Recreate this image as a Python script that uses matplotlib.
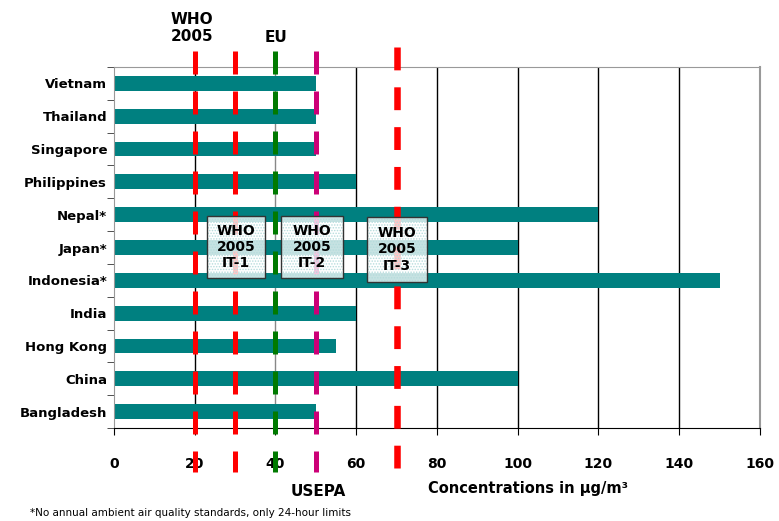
import matplotlib.pyplot as plt
import matplotlib.transforms as mtransforms
from matplotlib.patches import Rectangle

countries = ["Vietnam", "Thailand", "Singapore", "Philippines", "Nepal*", "Japan*",
             "Indonesia*", "India", "Hong Kong", "China", "Bangladesh"]
pm10 = [50, 50, 50, 60, 120, 100, 150, 60, 55, 100, 50]

# guideline / standard values
std_values = [20, 30, 40, 50, 70]
std_colors = ["#ff0000", "#ff0000", "#007a00", "#cc0077", "#ff0000"]

xticks = [0, 20, 40, 60, 80, 100, 120, 140, 160]

plt.rcParams["hatch.linewidth"] = 0.7

fig = plt.figure(figsize=(7.79, 5.21), dpi=100)
ax = fig.add_axes([0.1463, 0.1785, 0.8293, 0.6929])

y = list(range(len(countries)))[::-1]
ax.barh(y, pm10, height=0.45, color="#008080", zorder=2)

ax.set_xlim(0, 160)
ax.set_ylim(-0.5, len(countries) - 0.5)
ax.set_xticks(xticks)
ax.set_xticklabels([str(v) for v in xticks], fontsize=10, fontweight="bold")
ax.set_yticks(y)
ax.set_yticklabels(countries, fontsize=9.5, fontweight="bold")
ax.set_yticks([v + 0.5 for v in range(-1, len(countries))], minor=True)
ax.tick_params(axis="y", which="major", length=0, pad=5)
ax.tick_params(axis="y", which="minor", length=5, color="#333333")
ax.tick_params(axis="x", length=5, pad=16)

for gx in xticks[1:-1]:
    ax.axvline(gx, color="#888888" if gx == 40 else "black", linewidth=1, zorder=1)
for side in ["top", "right", "left"]:
    ax.spines[side].set_color("#999999")
ax.spines["right"].set_linewidth(1.5)
ax.spines["bottom"].set_color("black")

# dashed standard lines running past the plot area
trans = mtransforms.blended_transform_factory(ax.transData, ax.transAxes)
for val, col in zip(std_values, std_colors):
    if val == 70:
        lw, top, bottom, dash = 4.7, 1.055, -0.111, (0, (3.5, 2.6))
    else:
        lw, top, bottom, dash = 3.6, 1.044, -0.122, (0, (4.6, 3.4))
    ax.plot([val, val], [top, bottom], transform=trans, color=col, linewidth=lw,
            linestyle=dash, clip_on=False, zorder=3, solid_capstyle="butt",
            dash_capstyle="butt")

# interim target boxes (x0, x1, y0, y1 in data units)
boxes = [(23.0, 37.4, 4.07, 5.96, "WHO\n2005\nIT-1"),
         (41.4, 56.7, 4.07, 5.96, "WHO\n2005\nIT-2"),
         (62.7, 77.5, 3.95, 5.93, "WHO\n2005\nIT-3")]
for x0, x1, y0, y1, label in boxes:
    ax.add_patch(Rectangle((x0, y0), x1 - x0, y1 - y0, facecolor=(1, 1, 1, 0.78),
                           edgecolor="none", zorder=4))
    ax.add_patch(Rectangle((x0, y0), x1 - x0, y1 - y0, facecolor="none",
                           edgecolor="#b5dcdc", linewidth=0, hatch="......", zorder=4.5))
    ax.add_patch(Rectangle((x0, y0), x1 - x0, y1 - y0, facecolor="none",
                           edgecolor="#333333", linewidth=1, zorder=4.6))
    ax.text((x0 + x1) / 2, (y0 + y1) / 2, label, ha="center", va="center",
            fontsize=10, fontweight="bold", linespacing=1.2, zorder=5)

fig.text(192 / 779, 1 - 28 / 521, "WHO\n2005", ha="center", va="center",
         fontsize=11, fontweight="bold", linespacing=1.1)
fig.text(276 / 779, 1 - 38 / 521, "EU", ha="center", va="center",
         fontsize=11, fontweight="bold")
fig.text(318 / 779, 1 - 492 / 521, "USEPA", ha="center", va="center",
         fontsize=11, fontweight="bold")
fig.text(528 / 779, 1 - 488 / 521, "Concentrations in µg/m³", ha="center",
         va="center", fontsize=10.5, fontweight="bold")
fig.text(30 / 779, 1 - 513 / 521, "*No annual ambient air quality standards, only 24-hour limits",
         ha="left", va="center", fontsize=7.5)

fig.savefig("out.png", dpi=100)
